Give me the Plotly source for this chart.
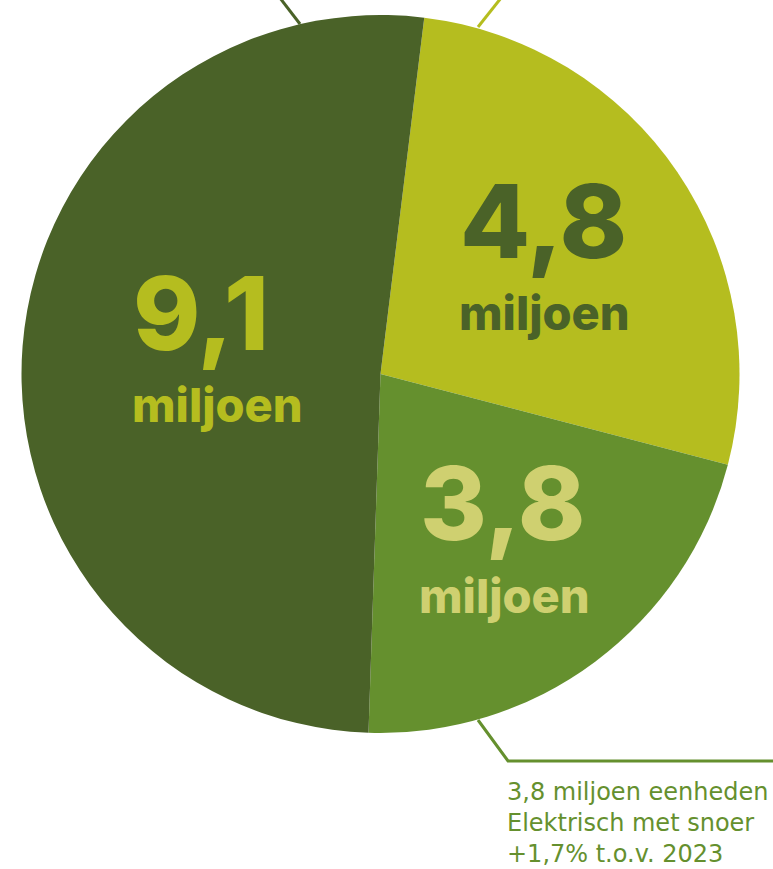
import plotly.graph_objects as go

W, H = 773, 869

labels = ["Categorie 4,8", "Elektrisch met snoer", "Categorie 9,1"]
values = [4.8, 3.8, 9.1]
value_text = ["4,8", "3,8", "9,1"]
unit_text = "miljoen"
slice_colors = ["#b5bd1f", "#65902e", "#4a6228"]
label_colors = ["#4a6228", "#cfd070", "#b5bd1f"]
callout_lines = ["3,8 miljoen eenheden", "Elektrisch met snoer", "+1,7% t.o.v. 2023"]

# pie geometry in pixels
cx, cy, r = 380.5, 374, 359

fig = go.Figure(go.Pie(
    labels=labels, values=values, sort=False, direction="clockwise",
    rotation=7, marker=dict(colors=slice_colors, line=dict(width=0)),
    textinfo="none", hoverinfo="label+value", showlegend=False,
    domain=dict(x=[(cx - r) / W, (cx + r) / W], y=[1 - (cy + r) / H, 1 - (cy - r) / H]),
))

def px(x):
    return x / W

def py(y):
    return 1 - y / H

# label positions (pixel, left edge and vertical centre)
label_pos = [(458, 221, 312), (418, 503, 595), (131, 313, 404)]
annotations = []
for i, (x0, ynum, yunit) in enumerate(label_pos):
    annotations.append(dict(x=px(x0), y=py(ynum), xref="paper", yref="paper", xanchor="left",
                            yanchor="middle", text=value_text[i], showarrow=False,
                            font=dict(family="Inter", size=102, color=label_colors[i], weight=800)))
    annotations.append(dict(x=px(x0 - 1), y=py(yunit), xref="paper", yref="paper", xanchor="left",
                            yanchor="middle", text=unit_text, showarrow=False,
                            font=dict(family="Inter", size=47, color=label_colors[i], weight=800)))

annotations.append(dict(x=px(505), y=py(776), xref="paper", yref="paper", xanchor="left",
                        yanchor="top", align="left", text="<br>".join(callout_lines), showarrow=False,
                        font=dict(family="DejaVu Sans", size=24, color="#65902e")))

shapes = [
    dict(type="line", xref="paper", yref="paper", x0=px(280), y0=py(-2), x1=px(300), y1=py(24),
         line=dict(color="#4a6228", width=3)),
    dict(type="line", xref="paper", yref="paper", x0=px(501), y0=py(-2), x1=px(478), y1=py(27),
         line=dict(color="#b5bd1f", width=3)),
    dict(type="path", xref="paper", yref="paper",
         path=f"M {px(478)} {py(720)} L {px(508)} {py(761)} L {px(775)} {py(761)}",
         line=dict(color="#65902e", width=3)),
]

fig.update_layout(width=W, height=H, margin=dict(l=0, r=0, t=0, b=0),
                  paper_bgcolor="white", plot_bgcolor="white",
                  annotations=annotations, shapes=shapes)

fig.write_html("out.html")
